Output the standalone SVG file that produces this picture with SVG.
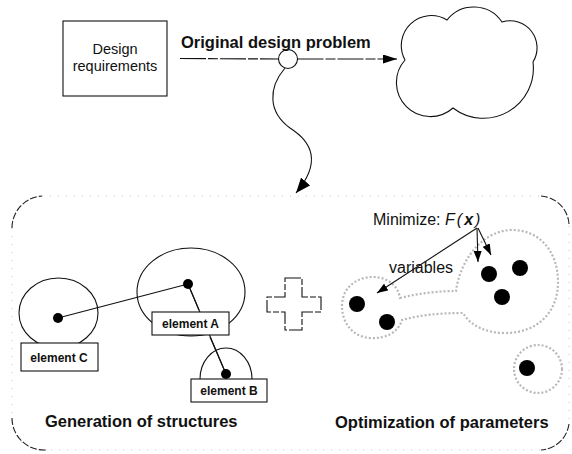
<svg xmlns="http://www.w3.org/2000/svg" width="572" height="454" viewBox="0 0 572 454">
<style>
  .ln{fill:none;stroke:#111;stroke-width:1.1}
  .dash{fill:none;stroke:#111;stroke-width:1.1;stroke-dasharray:26 2 10 2}
  .box{fill:#fff;stroke:#111;stroke-width:1.1}
  .lbl{font-family:"Liberation Sans",Arial,sans-serif;font-size:12px;font-weight:bold;fill:#111;text-anchor:middle}
  .ttl{font-family:"Liberation Sans",Arial,sans-serif;font-size:16.5px;font-weight:bold;fill:#111}
  .txt{font-family:"Liberation Sans",Arial,sans-serif;fill:#111}
  .dot{fill:#000}
  .blob{fill:none;stroke:#b8b8b8;stroke-width:2.2;stroke-dasharray:2 2}
  .corner{fill:none;stroke:#222;stroke-width:1.1;stroke-dasharray:7 2}
  .edge{fill:none;stroke:#c4c4c4;stroke-width:1;stroke-dasharray:1 7}
</style>
<defs>
  <marker id="ahBig" markerUnits="userSpaceOnUse" markerWidth="14" markerHeight="9" refX="14" refY="4.5" orient="auto">
    <path d="M0,0 L14,4.5 L0,9 z" fill="#000"/>
  </marker>
  <marker id="ahCurve" markerUnits="userSpaceOnUse" markerWidth="15" markerHeight="12" refX="15" refY="6" orient="auto">
    <path d="M0,0 L15,6 L0,12 z" fill="#000"/>
  </marker>
  <marker id="ahSm" markerUnits="userSpaceOnUse" markerWidth="11" markerHeight="8" refX="11" refY="4" orient="auto">
    <path d="M0,0 L11,4 L0,8 z" fill="#000"/>
  </marker>
</defs>

<!-- outer region -->
<g id="region">
  <rect class="edge" x="12" y="196" width="557" height="254" rx="30"/>
  <path class="corner" d="M12,228 A32,32 0 0 1 42,196"/>
  <path class="corner" d="M12,418 A32,32 0 0 0 46,450"/>
  <path class="corner" d="M541,196 A30,30 0 0 1 569,224"/>
  <path class="corner" d="M569,424 A30,30 0 0 1 541,450"/>
</g>

<g id="design-requirements">
  <rect class="box" x="63" y="21" width="104" height="75"/>
  <text class="txt" x="115" y="54" font-size="14.5" text-anchor="middle">Design</text>
  <text class="txt" x="115" y="71" font-size="14.5" text-anchor="middle">requirements</text>
</g>

<g id="problem-node">
  <circle class="ln" cx="288" cy="59" r="9.5"/>
</g>

<g id="cloud">
  <path class="ln" d="M405,60 A30,30 0 0 1 447,20 A34,34 0 0 1 502,22 A27,27 0 0 1 533,62 A50,50 0 0 1 453,108 A34,34 0 0 1 405,60 Z"/>
</g>

<g id="connectors">
  <path class="dash" d="M180,58.5 L278.5,59"/>
  <path class="dash" d="M297.5,59 L397,59" marker-end="url(#ahBig)"/>
  <path class="ln" d="M285,68 C268,88 268,112 290,128 C312,142 322,162 296,193" marker-end="url(#ahCurve)"/>
  <text class="ttl" x="181" y="48">Original design problem</text>
</g>

<!-- generation of structures -->
<g id="structure-links">
  <path class="ln" stroke-width="1.3" d="M58,318 L188,284"/>
  <path class="ln" stroke-width="1.3" d="M188,284 L226,374"/>
</g>
<g id="element-C">
  <ellipse class="ln" cx="58.5" cy="313" rx="39.5" ry="35"/>
  <circle class="dot" cx="58" cy="318" r="5"/>
  <rect class="box" x="21" y="343" width="77" height="28"/>
  <text class="lbl" x="59" y="361.5">element C</text>
</g>
<g id="element-A">
  <ellipse class="ln" cx="191" cy="292" rx="54" ry="44"/>
  <path class="ln" stroke-width="1.3" d="M188,284 L199,310"/>
  <circle class="dot" cx="188" cy="284" r="5"/>
  <rect class="box" x="152" y="312" width="77" height="23"/>
  <text class="lbl" x="190.5" y="327.5">element A</text>
</g>
<g id="element-B">
  <path class="ln" d="M200,379 A26,31 0 0 1 252,379"/>
  <path class="ln" stroke-width="1.3" d="M210,337 L226,374"/>
  <circle class="dot" cx="226" cy="374" r="5"/>
  <rect class="box" x="191" y="379" width="76" height="23"/>
  <text class="lbl" x="229" y="395">element B</text>
</g>
<text class="ttl" x="45" y="427">Generation of structures</text>

<g id="plus">
  <path fill="#fff" stroke="#111" stroke-width="1.1" stroke-dasharray="16 2 6 2" d="M285,278 H302 V297 H321 V312 H302 V330 H285 V312 H267 V297 H285 Z"/>
</g>

<!-- optimization of parameters -->
<g id="variable-groups">
  <path class="blob" d="M400,298 C420,293 440,291 456,291 C460,262 480,232 510,230 C540,229 558,252 558,282 C558,312 538,333 505,333 C485,333 470,325 463,313 C440,313 420,315 402,320 C398,333 385,339 370,338 C352,337 342,322 342,306 C342,288 356,277 373,277 C388,277 398,286 400,298 Z"/>
  <circle class="blob" cx="538" cy="369" r="24"/>
</g>
<g id="variables">
  <circle class="dot" cx="357" cy="304" r="8"/>
  <circle class="dot" cx="387" cy="322" r="8"/>
  <circle class="dot" cx="489" cy="274" r="8"/>
  <circle class="dot" cx="520" cy="268" r="8"/>
  <circle class="dot" cx="502" cy="297" r="8"/>
  <circle class="dot" cx="527" cy="368" r="8"/>
</g>
<g id="objective">
  <text class="txt" x="373" y="225" font-size="16">Minimize: <tspan font-style="italic" letter-spacing="2">F(<tspan font-weight="bold">x</tspan>)</tspan></text>
  <path class="ln" d="M477,228 L377,293" marker-end="url(#ahSm)"/>
  <path class="ln" d="M477,228 L478,262" marker-end="url(#ahSm)"/>
  <path class="ln" d="M478,228 L491,255" marker-end="url(#ahSm)"/>
  <text class="txt" x="389" y="273" font-size="16">variables</text>
</g>
<text class="ttl" x="335" y="428">Optimization of parameters</text>
</svg>
